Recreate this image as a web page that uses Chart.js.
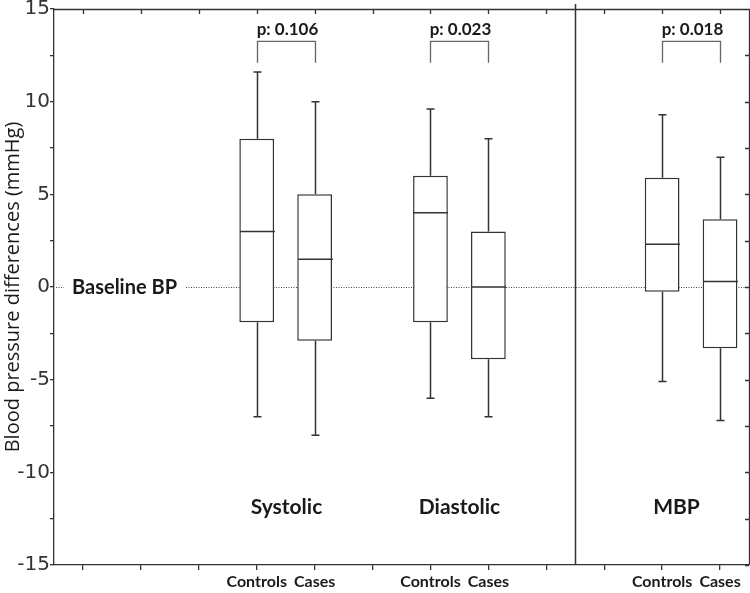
<!DOCTYPE html>
<html>
<head>
<meta charset="utf-8">
<script src="https://cdn.jsdelivr.net/npm/chart.js@4"></script>
<style>
    html, body { margin: 0; padding: 0; background: #fff; }
    canvas { display: block; }
</style>
</head>
<body>
<canvas id="chart" width="750" height="593"></canvas>
<script>
// 12 slots along the x axis, the boxes sit in some of them
const categories  = ["", "", "", "Controls", "Cases", "", "Controls", "Cases", "", "", "Controls", "Cases"];
const whiskerLow  = [null, null, null, -7.0, -8.0, null, -6.0, -7.0, null, null, -5.1, -7.2];
const quartile1   = [null, null, null, -1.9, -2.9, null, -1.9, -3.9, null, null, -0.25, -3.3];
const medians     = [null, null, null, 3.0, 1.5, null, 4.0, 0.0, null, null, 2.3, 0.3];
const quartile3   = [null, null, null, 8.0, 5.0, null, 6.0, 3.0, null, null, 5.9, 3.65];
const whiskerHigh = [null, null, null, 11.6, 10.0, null, 9.6, 8.0, null, null, 9.3, 7.0];

const groupNames  = ["Systolic", "Diastolic", "MBP"];
const groupPairs  = [[3, 4], [6, 7], [10, 11]];
const pValues     = ["p: 0.106", "p: 0.023", "p: 0.018"];

const INK = "#333";
const BOLD = "Lato, 'Open Sans', sans-serif";

/**
 * Whiskers, medians, brackets and the extra labels, all placed with the chart scales.
 */
const boxExtras = {
    id: "boxExtras",

    beforeDatasetsDraw(chart) {
        const {ctx, chartArea, scales: {y}} = chart;
        const y0 = Math.round(y.getPixelForValue(0));

        // dotted baseline behind the boxes
        ctx.save();
        ctx.strokeStyle = "#444";
        ctx.lineWidth = 1;
        ctx.setLineDash([1, 1.5]);
        ctx.beginPath();
        ctx.moveTo(chartArea.left + 2, y0 + 0.5);
        ctx.lineTo(chartArea.right, y0 + 0.5);
        ctx.stroke();
        ctx.setLineDash([]);

        ctx.font = "bold 20px " + BOLD;
        ctx.textBaseline = "middle";
        ctx.textAlign = "left";
        const label = "Baseline BP";
        const tx = chartArea.left + 18;
        const w = ctx.measureText(label).width;
        ctx.fillStyle = "#fff";
        ctx.fillRect(tx - 8, y0 - 10, w + 16, 20);
        ctx.fillStyle = "#1a1a1a";
        ctx.fillText(label, tx, y0 + 1);
        ctx.restore();
    },

    afterDatasetsDraw(chart) {
        const {ctx, chartArea, scales: {x, y}} = chart;
        const bars = chart.getDatasetMeta(0).data;

        ctx.save();
        ctx.strokeStyle = INK;
        ctx.lineWidth = 1.5;

        medians.forEach((m, i) => {
            if (m === null) {
                return;
            }
            const cx = Math.round(x.getPixelForValue(i)) + 0.5;
            const half = bars[i].width / 2;
            const yMed = y.getPixelForValue(m);
            const yLo = y.getPixelForValue(whiskerLow[i]);
            const yHi = y.getPixelForValue(whiskerHigh[i]);
            const yQ1 = y.getPixelForValue(quartile1[i]);
            const yQ3 = y.getPixelForValue(quartile3[i]);

            ctx.beginPath();
            ctx.moveTo(cx - half, yMed);
            ctx.lineTo(cx + half, yMed);
            ctx.moveTo(cx, yQ3);
            ctx.lineTo(cx, yHi);
            ctx.moveTo(cx - 4, yHi);
            ctx.lineTo(cx + 4, yHi);
            ctx.moveTo(cx, yQ1);
            ctx.lineTo(cx, yLo);
            ctx.moveTo(cx - 4, yLo);
            ctx.lineTo(cx + 4, yLo);
            ctx.stroke();
        });

        // brackets with p values and group names
        const yTop = y.getPixelForValue(13.25);
        const yLeg = y.getPixelForValue(12.1);
        const yP = y.getPixelForValue(13.9);
        const yGroup = y.getPixelForValue(-11.9);

        groupPairs.forEach(([a, b], g) => {
            const xa = Math.round(x.getPixelForValue(a)) + 0.5;
            const xb = Math.round(x.getPixelForValue(b)) + 0.5;

            ctx.strokeStyle = "#666";
            ctx.lineWidth = 1.3;
            ctx.beginPath();
            ctx.moveTo(xa, yLeg);
            ctx.lineTo(xa, yTop);
            ctx.lineTo(xb, yTop);
            ctx.lineTo(xb, yLeg);
            ctx.stroke();

            ctx.fillStyle = "#1a1a1a";
            ctx.textAlign = "center";
            ctx.textBaseline = "middle";
            ctx.font = "bold 17px " + BOLD;
            ctx.fillText(pValues[g], (xa + xb) / 2 + 1, yP);
            ctx.font = "bold 21px " + BOLD;
            const shift = g === 2 ? -15 : 0;
            ctx.fillText(groupNames[g], (xa + xb) / 2 + shift, yGroup);
        });

        // separator between BP and MBP
        const xs = Math.round((x.getPixelForValue(8) + x.getPixelForValue(9)) / 2) + 0.5;
        ctx.strokeStyle = INK;
        ctx.lineWidth = 1.5;
        ctx.beginPath();
        ctx.moveTo(xs, chartArea.top - 5);
        ctx.lineTo(xs, chartArea.bottom);
        ctx.stroke();

        // top and right frame with inward ticks
        ctx.lineWidth = 1.3;
        ctx.beginPath();
        ctx.moveTo(chartArea.left, chartArea.top + 0.5);
        ctx.lineTo(chartArea.right + 0.5, chartArea.top + 0.5);
        ctx.lineTo(chartArea.right + 0.5, chartArea.bottom);
        categories.forEach((c, i) => {
            const px = Math.round(x.getPixelForValue(i)) + 0.5;
            ctx.moveTo(px, chartArea.top);
            ctx.lineTo(px, chartArea.top + 5);
        });
        y.ticks.forEach((t) => {
            const py = Math.round(y.getPixelForValue(t.value)) + 0.5;
            ctx.moveTo(chartArea.right, py);
            ctx.lineTo(chartArea.right - 4, py);
        });
        ctx.stroke();
        ctx.restore();
    }
};

new Chart(document.getElementById("chart"), {
    type: "bar",
    data: {
        labels: categories,
        datasets: [{
            data: quartile1.map((q, i) => (q === null ? null : [q, quartile3[i]])),
            backgroundColor: "#fff",
            borderColor: INK,
            borderWidth: 1.5,
            borderSkipped: false,
            barPercentage: 0.6,
            categoryPercentage: 1.0
        }]
    },
    options: {
        responsive: false,
        animation: false,
        devicePixelRatio: 1,
        layout: { padding: { top: 9, right: 1, left: 0, bottom: 0 } },
        plugins: {
            legend: { display: false },
            tooltip: { enabled: false }
        },
        scales: {
            x: {
                afterFit: (scale) => { scale.height = 28; },
                grid: { drawOnChartArea: false, offset: false, tickLength: 5, color: INK, lineWidth: 1.3 },
                border: { color: INK, width: 1.3 },
                ticks: {
                    autoSkip: false,
                    maxRotation: 0,
                    padding: 2,
                    color: "#1a1a1a",
                    font: { family: BOLD, size: 16, weight: "bold" }
                }
            },
            y: {
                min: -15,
                max: 15,
                afterFit: (scale) => {
                    scale.width = 54;
                    scale.paddingTop = 0;
                    scale.paddingBottom = 0;
                },
                grid: { drawOnChartArea: false, tickLength: 4, color: INK, lineWidth: 1.3 },
                border: { color: INK, width: 1.3 },
                ticks: {
                    stepSize: 2.5,
                    padding: 0,
                    color: "#333",
                    font: { family: "'DejaVu Sans', sans-serif", size: 20 },
                    callback: (v) => (Math.abs(v % 5) < 1e-6 ? v : "")
                },
                title: {
                    display: true,
                    text: "Blood pressure differences (mmHg)",
                    color: "#1a1a1a",
                    padding: { top: 1, bottom: 0 },
                    font: { family: "'Open Sans', sans-serif", size: 20 }
                }
            }
        }
    },
    plugins: [boxExtras]
});
</script>
</body>
</html>
